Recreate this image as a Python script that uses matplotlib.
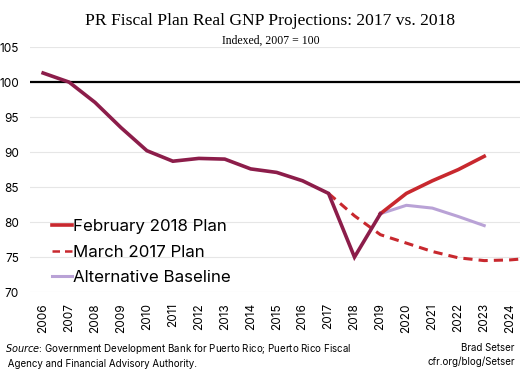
import numpy as np
import matplotlib.pyplot as plt

years = list(range(2006, 2025))
hist_years = list(range(2006, 2018))
hist_vals = [101.3, 100.0, 97.1, 93.5, 90.2, 88.7, 89.1, 89.0, 87.6, 87.1, 85.9, 84.1]

feb2018_years = [2017, 2018, 2019, 2020, 2021, 2022, 2023]
feb2018_vals = [84.1, 75.0, 81.2, 84.1, 85.9, 87.5, 89.4]

mar2017_years = [2017, 2018, 2019, 2020, 2021, 2022, 2023, 2024, 2025]
mar2017_vals = [84.1, 80.9, 78.2, 77.0, 75.8, 74.9, 74.5, 74.6, 74.9]

alt_years = [2019, 2020, 2021, 2022, 2023]
alt_vals = [81.2, 82.4, 82.0, 80.8, 79.5]

red = '#C8282E'
maroon = '#8C1D4A'
lavender = '#B9A2D6'

plt.rcParams['font.family'] = ['Inter', 'DejaVu Sans']

fig = plt.figure(figsize=(5.2, 3.74), dpi=100)
ax = fig.add_axes([0.058, 0.219, 0.948, 0.655])

ax.set_ylim(70, 105)
ax.set_xlim(2005.5, 2024.5)
ax.set_yticks(range(70, 106, 5))
ax.set_xticks(years)
ax.set_xticklabels([str(y) for y in years], rotation=90, fontsize=8.5)
ax.tick_params(axis='y', labelsize=8.5, length=0, pad=8)
ax.tick_params(axis='x', length=0, pad=8)
for s in ax.spines.values():
    s.set_visible(False)
ax.grid(axis='y', color='#E6E6E6', linewidth=0.8)
ax.set_axisbelow(True)
ax.axhline(100, color='black', linewidth=1.6, zorder=2)

ax.plot(mar2017_years, mar2017_vals, color=red, linewidth=2.2, linestyle=(0, (3, 2)),
        label='March 2017 Plan', zorder=3)
ax.plot(alt_years, alt_vals, color=lavender, linewidth=2.2, label='Alternative Baseline', zorder=3)
ax.plot(feb2018_years[2:], feb2018_vals[2:], color=red, linewidth=2.6, zorder=4)
ax.plot(hist_years + feb2018_years[1:3], hist_vals + feb2018_vals[1:3], color=maroon,
        linewidth=2.6, zorder=5, solid_joinstyle='miter')

handles = [plt.Line2D([], [], color=red, linewidth=2.6),
           plt.Line2D([], [], color=red, linewidth=1.8, linestyle=(0, (3, 2))),
           plt.Line2D([], [], color=lavender, linewidth=2.2)]
ax.legend(handles, ['February 2018 Plan', 'March 2017 Plan', 'Alternative Baseline'],
          loc='lower left', bbox_to_anchor=(0.02, -0.02), frameon=False, fontsize=12.2,
          handlelength=1.2, handletextpad=0.05, labelspacing=0.62, borderaxespad=0.3)

fig.text(0.52, 0.945, 'PR Fiscal Plan Real GNP Projections: 2017 vs. 2018',
         family='Liberation Serif', fontsize=12.6, ha='center', va='center')
fig.text(0.52, 0.89, 'Indexed, 2007 = 100', family='Liberation Serif', fontsize=8.5,
         ha='center', va='center')

fig.text(0.01, 0.05, r'$\it{Source}$: Government Development Bank for Puerto Rico; Puerto Rico Fiscal'
         '\n Agency and Financial Advisory Authority.', fontsize=7, va='center', ha='left',
         linespacing=1.4)
fig.text(0.99, 0.05, 'Brad Setser\ncfr.org/blog/Setser', fontsize=7, va='center', ha='right',
         linespacing=1.4)

fig.savefig('out.png', dpi=100)
